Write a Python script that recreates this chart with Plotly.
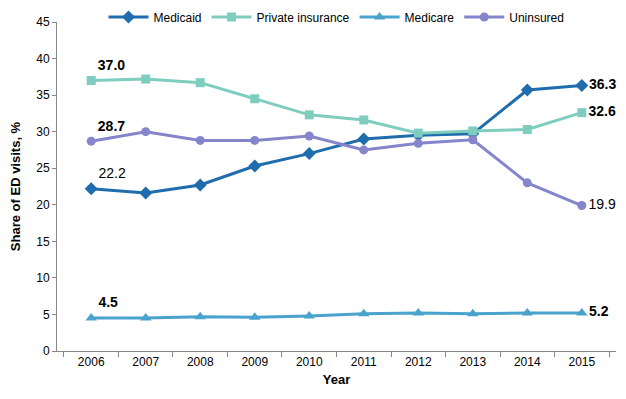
import plotly.graph_objects as go

years = ["2006", "2007", "2008", "2009", "2010", "2011", "2012", "2013", "2014", "2015"]
medicaid = [22.2, 21.6, 22.7, 25.3, 27.0, 29.0, 29.5, 29.7, 35.7, 36.3]
private = [37.0, 37.2, 36.7, 34.5, 32.3, 31.6, 29.8, 30.1, 30.3, 32.6]
medicare = [4.5, 4.5, 4.7, 4.6, 4.8, 5.1, 5.2, 5.1, 5.2, 5.2]
uninsured = [28.7, 30.0, 28.8, 28.8, 29.4, 27.5, 28.4, 28.9, 23.0, 19.9]
y_ticks = [0, 5, 10, 15, 20, 25, 30, 35, 40, 45]

# (name, values, colour, marker, size, bold first label, bold last label)
series = [
    ("Medicaid", medicaid, "#1F6DAD", "diamond", 10, False, True),
    ("Private insurance", private, "#7FCDBF", "square", 9, True, True),
    ("Medicare", medicare, "#4AA3CC", "triangle-up", 10, True, True),
    ("Uninsured", uninsured, "#8585CB", "circle", 9, True, False),
]

fig = go.Figure()
for name, vals, color, sym, sz, b0, b1 in series:
    text = ["" for _ in vals]
    t0 = f"{vals[0]:.1f}"
    t1 = f"{vals[-1]:.1f}"
    text[0] = f"<b>{t0}</b>" if b0 else t0
    text[-1] = f"<b>{t1}</b>" if b1 else t1
    pos = ["middle right"] * len(vals)
    pos[0] = "top right"
    fig.add_trace(go.Scatter(
        x=years, y=vals, name=name, mode="lines+markers+text",
        line=dict(color=color, width=3),
        marker=dict(symbol=sym, size=sz, color=color),
        text=text, textposition=pos,
        textfont=dict(family="Liberation Sans, Arial", size=14, color="black"),
        cliponaxis=False,
    ))

fig.update_layout(
    width=626, height=399,
    margin=dict(l=49, r=18, t=14, b=56, autoexpand=False),
    paper_bgcolor="white", plot_bgcolor="white",
    font=dict(family="Liberation Sans, Arial", size=12, color="black"),
    legend=dict(orientation="h", x=0.5, xanchor="center",
                yref="container", y=1 - 9 / 399, yanchor="middle",
                font=dict(size=12), traceorder="normal", itemwidth=40),
    showlegend=True,
)
fig.update_xaxes(
    type="category", showline=True, linecolor="#888888", linewidth=1,
    ticks="outside", tickson="boundaries", ticklen=5, tickcolor="#888888",
    showgrid=False, zeroline=False, automargin=False,
    title=dict(text="<b>Year</b>", font=dict(size=13), standoff=6),
)
fig.update_yaxes(
    range=[0, 45], tickvals=y_ticks, showline=True, linecolor="#888888", linewidth=1,
    ticks="outside", ticklen=4, tickcolor="#888888", showgrid=False, zeroline=False,
    automargin=False,
    title=dict(text="<b>Share of ED visits, %</b>", font=dict(size=13), standoff=22),
)
fig.write_html("out.html")
